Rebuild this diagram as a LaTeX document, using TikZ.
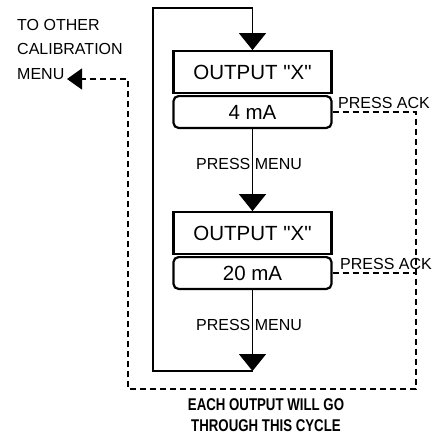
\documentclass[tikz,border=0pt]{standalone}
\usepackage{fontspec}
\setmainfont{Liberation Sans}[Ligatures=TeXOff]
\newfontfamily\narrowfont[FakeStretch=0.78]{Liberation Sans}
\usepackage{tikz}
\usetikzlibrary{arrows.meta}

\begin{document}
\begin{tikzpicture}[x=1pt, y=1pt,
          outbox/.style={rectangle, draw, line width=2.2pt, minimum width=158pt,
                         minimum height=41.6pt, inner sep=0pt, font=\fontsize{20.5}{24}\selectfont},
          valbox/.style={rectangle, rounded corners=5pt, draw, line width=2.2pt,
                         minimum width=158pt, minimum height=31.8pt, inner sep=0pt,
                         font=\fontsize{20.5}{24}\selectfont},
          lbl/.style={font=\fontsize{16}{24.5}\selectfont, inner sep=0pt},
          arr/.style={-{Triangle[length=17pt, width=27pt]}, line width=1.6pt},
          flow/.style={line width=1.6pt},
          ack/.style={dash pattern=on 6pt off 4pt, line width=1.4pt}
        ]
        \useasboundingbox (0,0) rectangle (443,-434);

        \node[outbox] (out1) at (252.5, -72)  {OUTPUT "X"};
        \node[valbox] (val1) at (252.5, -112) {4 mA};

        \node[outbox] (out2) at (252.5, -233) {OUTPUT "X"};
        \node[valbox] (val2) at (252.5, -273) {20 mA};

        \node[lbl] (menu1) at (249, -164) {PRESS MENU};
        \node[lbl] (menu2) at (249, -325) {PRESS MENU};

        \node[lbl, anchor=west] (ack1) at (338, -103) {PRESS ACK};
        \node[lbl, anchor=west] (ack2) at (340, -264) {PRESS ACK};

        \node[lbl, anchor=north west, align=left] (other) at (17, -19)
              {TO OTHER\\CALIBRATION\\MENU};

        \node[font=\narrowfont\bfseries\fontsize{17}{21}\selectfont, align=center]
              (cycle) at (266, -415) {EACH OUTPUT WILL GO\\THROUGH THIS CYCLE};

        \coordinate (loopend) at (252.5, -371);
        \coordinate (loopbl)  at (153, -371);
        \coordinate (looptl)  at (153, -8);
        \coordinate (dashbr)  at (416, -389);
        \coordinate (dashbl)  at (128, -389);
        \coordinate (tomenu)  at (67, -79);

        \draw[arr] (val1.south) -- (out2.north);
        \draw[arr] (val2.south) -- (loopend);
        \draw[flow] (loopend) -- (loopbl) -- (looptl) -| ([yshift=17pt]out1.north);
        \draw[arr] ([yshift=18pt]out1.north) -- (out1.north);

        \draw[ack] (val1.east) -| (dashbr) -- (dashbl) |- ([xshift=14pt]tomenu);
        \draw[ack] (val2.east) -- (val2.east -| dashbr);
        \draw[-{Triangle[length=15pt, width=21pt]}, line width=1.4pt]
              ([xshift=15pt]tomenu) -- (tomenu);
      \end{tikzpicture}
\end{document}
